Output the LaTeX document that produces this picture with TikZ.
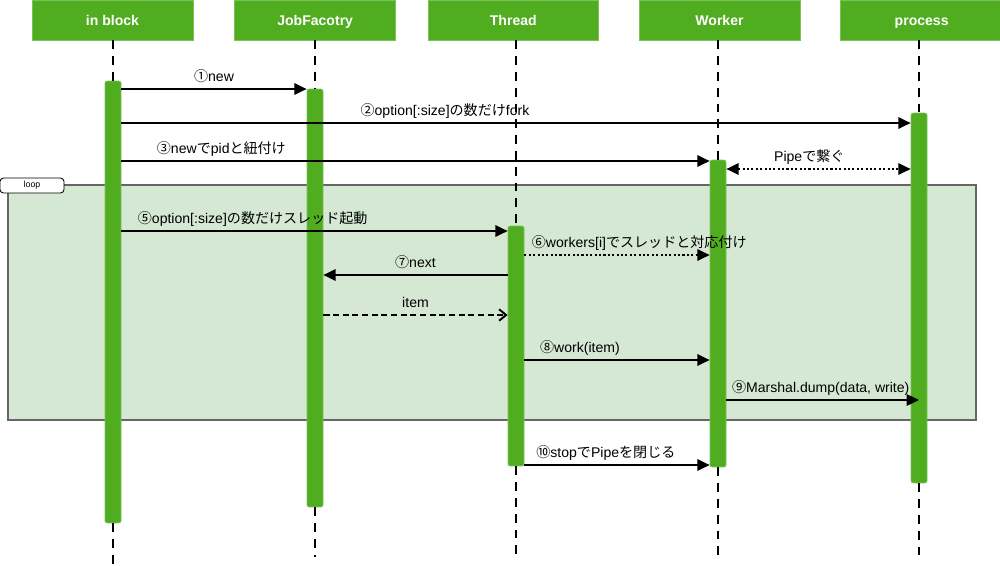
\documentclass[tikz,border=0pt]{standalone}
\usepackage{fontspec}
\setmainfont{Liberation Sans}
\newfontfamily\jp{Noto Sans CJK JP}
\usetikzlibrary{arrows.meta,positioning}
\definecolor{lgreen}{RGB}{80,173,32}
\definecolor{loopbg}{RGB}{213,232,212}
\tikzset{
  head/.style={fill=lgreen,draw=lgreen!75!white,text=white,
    font=\bfseries\fontsize{8}{9}\selectfont,minimum height=0.8cm,inner sep=0pt,
    text height=5.8pt,text depth=0pt},
  act/.style={fill=lgreen,draw=lgreen!75!white,rounded corners=1.2pt,
    minimum width=0.32cm,inner sep=0pt},
  life/.style={line width=1.1pt,dash pattern=on 5pt off 4pt},
  msg/.style={line width=1.1pt,-{Triangle[length=7pt,width=6.5pt]}},
  lbl/.style={font=\fontsize{8}{9}\selectfont,anchor=base,yshift=4pt,inner sep=0pt},
}
\begin{document}
\begin{tikzpicture}[x=0.02cm,y=-0.02cm]
\useasboundingbox (0,0) rectangle (1000,565);

% loop frame
\draw[fill=loopbg,draw=gray!80!black,line width=0.7pt] (8,185) rectangle (976,420);

\node[head,
    minimum width=3.22cm
] (head1) at (112.5,20) {in block};

\node[head,
	right=0.82cm of head1,
    minimum width=3.22cm
] (head2) {JobFacotry};

\node[head,
	right=0.64cm of head2,
    minimum width=3.4cm
] (head3) {Thread};

\node[head,
	right=0.8cm of head3,
    minimum width=3.22cm
] (head4) {Worker};

\node[head,
	right=0.8cm of head4,
    minimum width=3.24cm
] (head5) {process};

% activations
\node[act, minimum height=8.84cm] (act1) at (113,302) {};
\node[act, minimum height=8.36cm] (act2) at (315,298) {};
\node[act, minimum height=4.8cm] (act3) at (516,346) {};
\node[act, minimum height=6.14cm] (act4) at (718,313.5) {};
\node[act, minimum height=7.4cm] (act5) at (919,298) {};

\coordinate (end1) at (113,565);
\coordinate (end2) at (315,557);
\coordinate (end3) at (516,557);
\coordinate (end4) at (718,557);
\coordinate (end5) at (919,557);

% lifelines
\foreach \i in {1,...,5}
  \draw[life] (act\i |- head\i.south) -- (act\i.north)
              (act\i.south) -- (end\i);

\node[draw,fill=white,rounded corners=2pt,line width=0.5pt,
    minimum width=1.28cm,minimum height=0.3cm,inner sep=0pt,
    font=\fontsize{5}{6}\selectfont
] (looptab) at (32,185.5) {loop};

% Arrows
\draw[msg] (act1.east |- 0,89) -- node[lbl]{{\jp ①}new} (act2.west |- 0,89);
\draw[msg] (act1.east |- 0,123) -- node[lbl,pos=0.41]{{\jp ②}option[:size]{\jp の数だけ}fork} (act5.west |- 0,123);
\draw[msg] (act1.east |- 0,161) -- node[lbl,pos=0.17]{{\jp ③}new{\jp で}pid{\jp と紐付け}} (act4.west |- 0,161);
\draw[msg,{Triangle[length=7pt,width=6.5pt]}-{Triangle[length=7pt,width=6.5pt]},dash pattern=on 1.2pt off 1.3pt]
    (act4.east |- 0,169) -- node[lbl,pos=0.45]{Pipe{\jp で繋ぐ}} (act5.west |- 0,169);
\draw[msg] (act1.east |- 0,231) -- node[lbl,pos=0.34]{{\jp ⑤}option[:size]{\jp の数だけスレッド起動}} (act3.west |- 0,231);
\draw[msg,dash pattern=on 1.2pt off 1.3pt] (act3.east |- 0,255) -- node[lbl,pos=0.62]{{\jp ⑥}workers[i]{\jp でスレッドと対応付け}} (act4.west |- 0,255);
\draw[msg] (act3.west |- 0,275) -- node[lbl]{{\jp ⑦}next} (act2.east |- 0,275);
\draw[line width=1.1pt,dash pattern=on 3.5pt off 2pt,-{Straight Barb[length=4pt,width=6.5pt]}]
    (act2.east |- 0,315) -- node[lbl]{item} (act3.west |- 0,315);
\draw[msg] (act3.east |- 0,360) -- node[lbl,pos=0.3]{{\jp ⑧}work(item)} (act4.west |- 0,360);
\draw[msg] (act4.east |- 0,400) -- node[lbl,pos=0.49]{{\jp ⑨}Marshal.dump(data, write)} (act5 |- 0,400);
\draw[msg] (act3.east |- 0,465) -- node[lbl,pos=0.44]{{\jp ⑩}stop{\jp で}Pipe{\jp を閉じる}} (act4.west |- 0,465);
\end{tikzpicture}
\end{document}
